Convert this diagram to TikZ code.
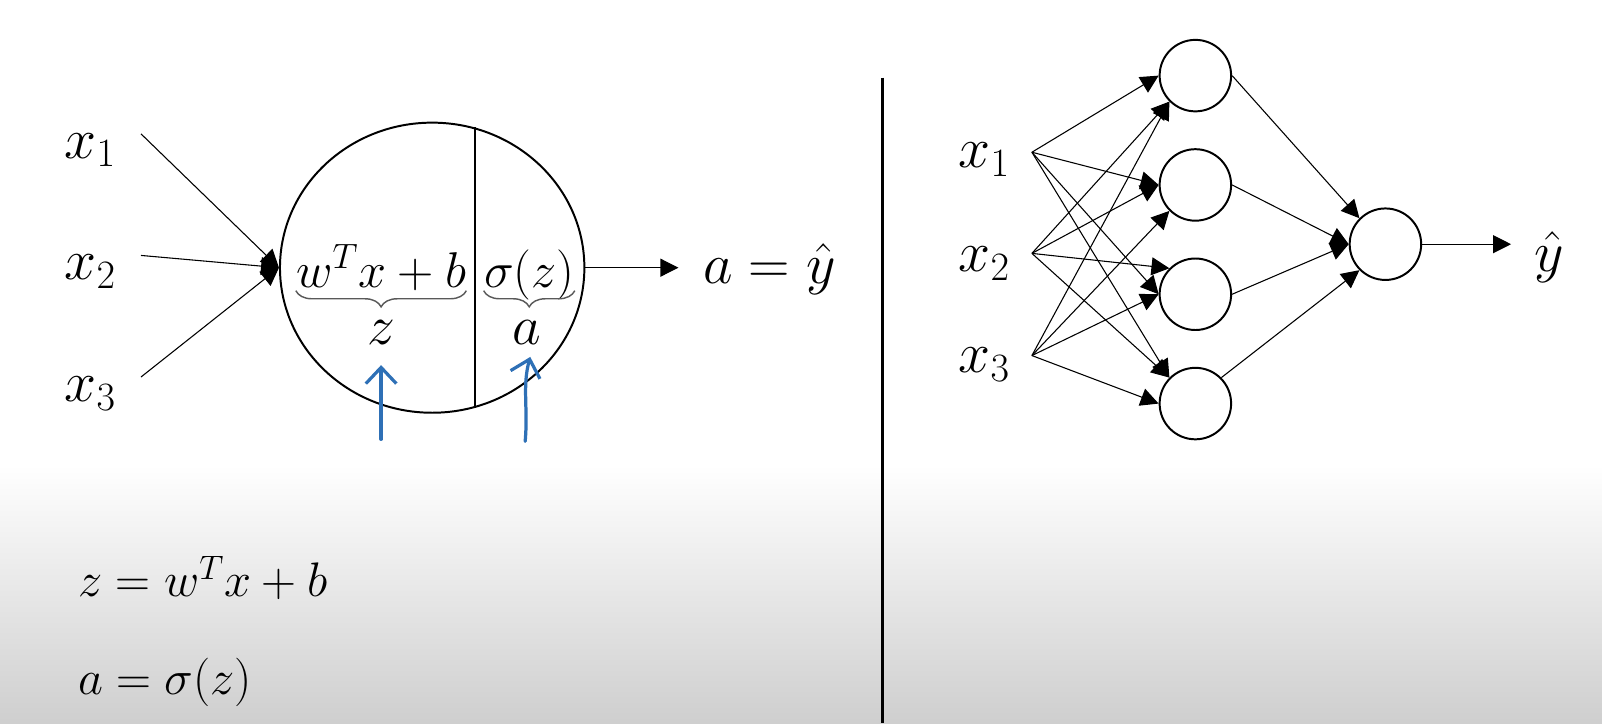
\RequirePackage{fix-cm}
\documentclass[tikz,border=0pt]{standalone}
\usepackage{amsmath}
\usepackage{tikz}
\usetikzlibrary{shapes.geometric, arrows.meta, positioning, decorations.pathreplacing}
\definecolor{penblue}{RGB}{46,112,182}
\tikzstyle{unit} = [circle, minimum size=1.4cm, inner sep=0pt, draw=black, line width=1.1pt]
\tikzstyle{bigunit} = [ellipse, minimum width=5.96cm, minimum height=5.68cm, inner sep=0pt, draw=black, line width=1.1pt]
\tikzstyle{arrow} = [line width=0.6pt,-{Triangle[length=10pt,width=10pt]}]
\tikzstyle{inlab} = [inner sep=0pt, anchor=base west, font=\fontsize{32}{38}\selectfont]
\tikzstyle{term} = [inner sep=0pt, anchor=base, font=\fontsize{28}{34}\selectfont]
\tikzstyle{small} = [inner sep=0pt, anchor=base, font=\fontsize{31}{37}\selectfont]
\tikzstyle{eqn} = [inner sep=0pt, anchor=base west, font=\fontsize{27}{32}\selectfont]
\tikzstyle{underbr} = [decorate, decoration={brace, mirror, amplitude=9pt}, draw=black!65, line width=0.8pt]
\tikzstyle{penarrow} = [penblue, line width=1.8pt, line cap=round, -{Straight Barb[length=9pt,width=17pt]}]

\begin{document}
\begin{tikzpicture}[x=0.02cm, y=-0.02cm]
\useasboundingbox (0,0) rectangle (1568,708);
\shade[top color=white, bottom color=black!19] (0,455) rectangle (1568,708);

% single neuron
\node (x1) [inlab] at (63,155) {$x_1$};
\node (x2) [inlab] at (63,274) {$x_2$};
\node (x3) [inlab] at (63,393) {$x_3$};
\coordinate (p1) at (138,131);
\coordinate (p2) at (138,250);
\coordinate (p3) at (138,369);
\node (neuron) [bigunit] at (423,262) {};
\draw [line width=1.1pt] (neuron.73.7) -- (neuron.-73.7);
\draw [arrow] (p1) -- (neuron.west);
\draw [arrow] (p2) -- (neuron.west);
\draw [arrow] (p3) -- (neuron.west);

\node (lin) [term] at (373,281) {$w^Tx+b$};
\node (act) [term] at (518,281) {$\sigma(z)$};
\draw [underbr] ([yshift=-2pt]lin.base west) -- ([yshift=-2pt]lin.base east);
\draw [underbr] ([yshift=-2pt]act.base west) -- ([yshift=-2pt]act.base east);
\node (zlab) [small] at (373,337) {$z$};
\node (alab) [small] at (516,337) {$a$};

\node (aout) [inlab] at (688,277) {$a=\hat{y}$};
\draw [arrow, shorten >=0.48cm] (neuron.east) -- (neuron.east -| aout.west);

% pen marks
\coordinate (zpen) at (373,430);
\coordinate (apen) at (514,432);
\draw [penarrow] (zpen) -- ([yshift=-0.4cm]zlab.south);
\draw [penarrow] (apen) .. controls (517,400) and (511,378) .. ([xshift=0.06cm,yshift=-0.24cm]alab.south);

% bottom equations
\node (zeq) [eqn] at (76,584) {$z=w^Tx+b$};
\node (aeq) [eqn] at (76,680) {$a=\sigma(z)$};

\draw [line width=1.4pt] (864,76) -- (864,708);

% small network
\node (r1) [inlab] at (938,164) {$x_1$};
\node (r2) [inlab] at (938,266) {$x_2$};
\node (r3) [inlab] at (938,365) {$x_3$};
\coordinate (f1) at (1010,149);
\coordinate (f2) at (1010,248);
\coordinate (f3) at (1010,348);
\node (h1) [unit] at (1170,74) {};
\node (h2) [unit] at (1170,181) {};
\node (h3) [unit] at (1170,288) {};
\node (h4) [unit] at (1170,395) {};
\node (out) [unit] at (1356,239) {};
\node (yhat) [inlab] at (1502,266) {$\hat{y}$};

\draw [arrow] (f1) -- (h1.west);
\draw [arrow] (f2) -- (h1.south west);
\draw [arrow] (f3) -- (h1.south west);
\draw [arrow] (f1) -- (h2.west);
\draw [arrow] (f2) -- (h2.west);
\draw [arrow] (f3) -- (h2.south west);
\draw [arrow] (f1) -- (h3.west);
\draw [arrow] (f2) -- (h3.north west);
\draw [arrow] (f3) -- (h3.west);
\draw [arrow] (f1) -- (h4.north west);
\draw [arrow] (f2) -- (h4.north west);
\draw [arrow] (f3) -- (h4.west);

\draw [arrow] (h1.east) -- (out.north west);
\draw [arrow] (h2.east) -- (out.west);
\draw [arrow] (h3.east) -- (out.west);
\draw [arrow] (h4.north east) -- (out.south west);
\draw [arrow, shorten >=0.46cm] (out.east) -- (out.east -| yhat.west);
\end{tikzpicture}
\end{document}
